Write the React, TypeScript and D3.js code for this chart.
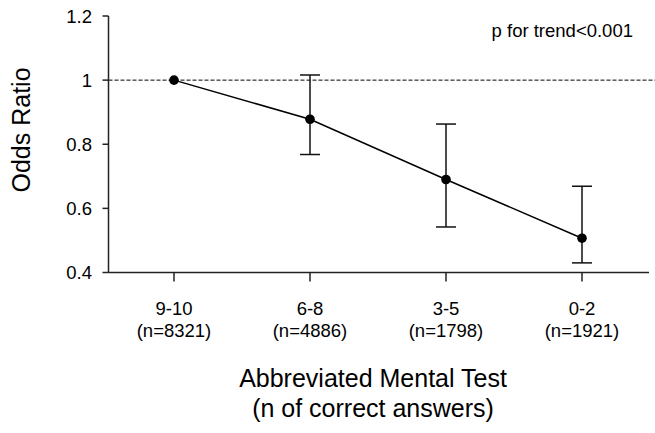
import React from "react";
import * as d3 from "d3";

const categories = ["9-10", "6-8", "3-5", "0-2"];
const counts = ["(n=8321)", "(n=4886)", "(n=1798)", "(n=1921)"];
const oddsRatio = [1.0, 0.878, 0.69, 0.507];
const lower = [1.0, 0.768, 0.542, 0.43];
const upper = [1.0, 1.016, 0.863, 0.669];
const yTicks = [0.4, 0.6, 0.8, 1, 1.2];

const W = 655;
const H = 433;
const FONT = "Arial, 'Liberation Sans', sans-serif";

export default function App() {
  const x = d3.scalePoint<string>().domain(categories).range([174, 582]);
  const y = d3.scaleLinear().domain([0.4, 1.2]).range([272.5, 16]);
  const axisLeft = 108.5;
  const axisRight = 649;
  const line = d3
    .line<number>()
    .x((_, i) => x(categories[i]) as number)
    .y((d) => y(d));

  return (
    <svg
      width={W}
      height={H}
      style={{ position: "absolute", left: 0, top: 0, background: "#fff" }}
      fontFamily={FONT}
    >
      <rect width={W} height={H} fill="#fff" />
      {/* reference line */}
      <line
        x1={axisLeft}
        x2={W}
        y1={y(1)}
        y2={y(1)}
        stroke="#000"
        strokeWidth={1}
        strokeDasharray="4,2"
      />
      {/* y axis */}
      <line x1={axisLeft} x2={axisLeft} y1={y(1.2)} y2={y(0.4)} stroke="#222" strokeWidth={1.5} />
      {yTicks.map((t) => (
        <g key={t}>
          <line x1={axisLeft - 6} x2={axisLeft} y1={y(t)} y2={y(t)} stroke="#222" strokeWidth={1.5} />
          <text
            x={92}
            y={y(t)}
            dy="0.36em"
            textAnchor="end"
            fontSize={18.5}
            fill="#000"
          >
            {String(t)}
          </text>
        </g>
      ))}
      {/* x axis */}
      <line x1={axisLeft} x2={axisRight} y1={y(0.4)} y2={y(0.4)} stroke="#222" strokeWidth={1.5} />
      {categories.map((c, i) => (
        <g key={c}>
          <line
            x1={x(c)}
            x2={x(c)}
            y1={y(0.4)}
            y2={y(0.4) + 9}
            stroke="#222"
            strokeWidth={1.5}
          />
          <text x={x(c)} y={315} textAnchor="middle" fontSize={18.5} fill="#000">
            {c}
          </text>
          <text x={x(c)} y={337} textAnchor="middle" fontSize={18.5} fill="#000">
            {counts[i]}
          </text>
        </g>
      ))}
      {/* error bars */}
      {categories.map((c, i) =>
        upper[i] === lower[i] ? null : (
          <g key={"e" + c} stroke="#111" strokeWidth={1.5}>
            <line x1={x(c)} x2={x(c)} y1={y(upper[i])} y2={y(lower[i])} />
            <line x1={(x(c) as number) - 10} x2={(x(c) as number) + 10} y1={y(upper[i])} y2={y(upper[i])} />
            <line x1={(x(c) as number) - 10} x2={(x(c) as number) + 10} y1={y(lower[i])} y2={y(lower[i])} />
          </g>
        )
      )}
      {/* line */}
      <path d={line(oddsRatio) as string} fill="none" stroke="#000" strokeWidth={1.5} />
      {oddsRatio.map((v, i) => (
        <circle key={i} cx={x(categories[i])} cy={y(v)} r={4.8} fill="#000" />
      ))}
      {/* annotation */}
      <text x={633} y={37} textAnchor="end" fontSize={18.5} fill="#000">
        p for trend&lt;0.001
      </text>
      {/* y label */}
      <text
        transform={`translate(30,130) rotate(-90)`}
        textAnchor="middle"
        fontSize={25}
        fill="#000"
      >
        Odds Ratio
      </text>
      {/* x label */}
      <text x={373} y={387} textAnchor="middle" fontSize={25} fill="#000">
        Abbreviated Mental Test
      </text>
      <text x={373} y={417} textAnchor="middle" fontSize={25} fill="#000">
        (n of correct answers)
      </text>
    </svg>
  );
}
